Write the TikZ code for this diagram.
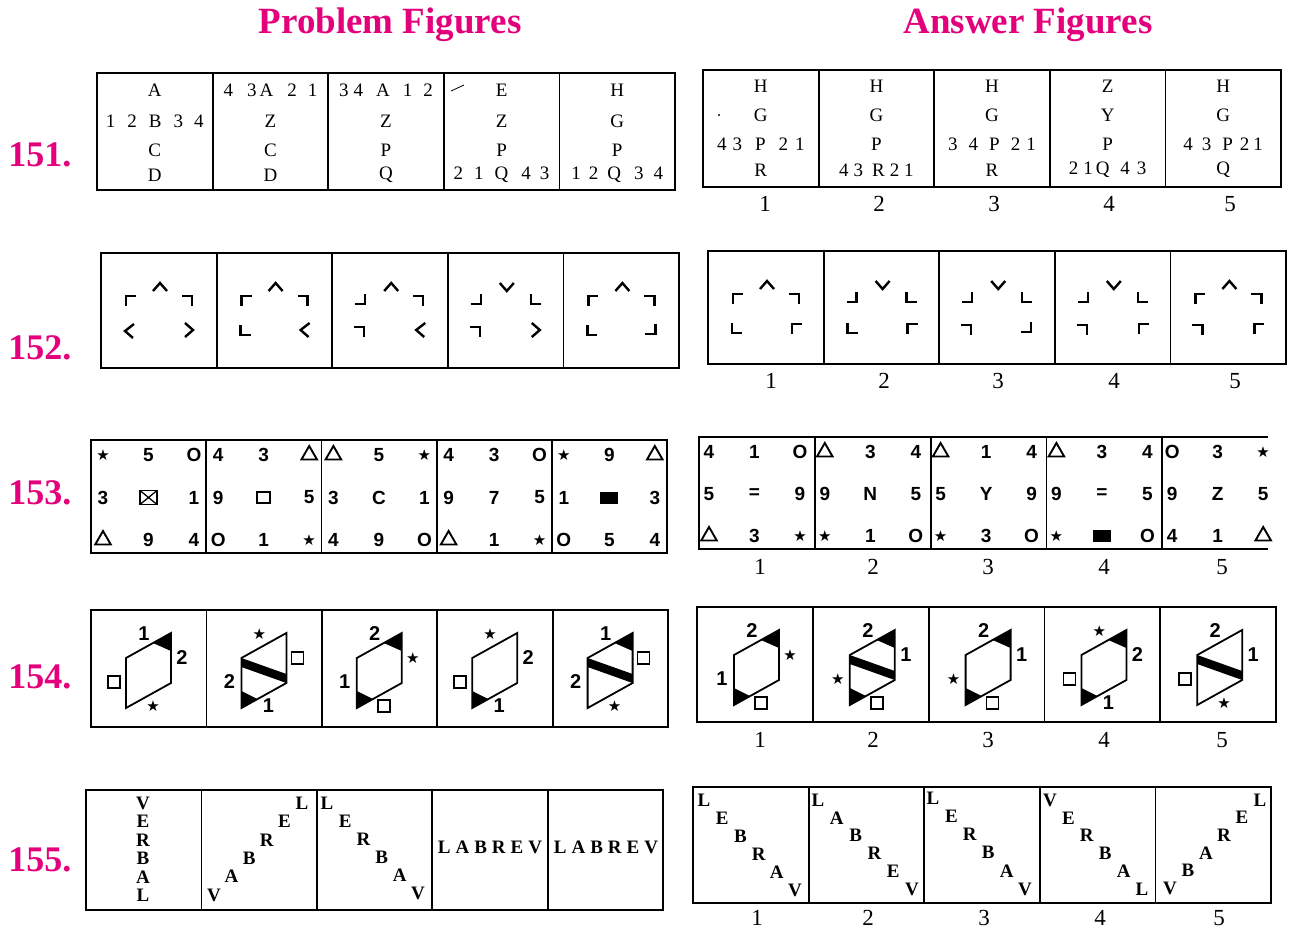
\documentclass[tikz,border=0pt]{standalone}
\usepackage{fontspec}
\setmainfont{Liberation Serif}
\newfontfamily\arialf{Liberation Sans}
\newfontfamily\dejav{DejaVu Sans}
\usetikzlibrary{calc,shapes.geometric}
\definecolor{mag}{RGB}{228,0,124}
\newcommand\hs[1]{\hspace{#1pt}}
% row 152 cell
\newcommand\mcell[8]{%
  \pic (#1ul) at (#2+29,#3+47) {#4};
  \pic (#1c)  at (#2+59,#3+34) {#5};
  \pic (#1ur) at (#2+87,#3+47) {#6};
  \pic (#1ll) at (#2+28,#3+78) {#7};
  \pic (#1lr) at (#2+88,#3+77) {#8};}
% row 154 cell
\newcommand\pcell[8]{%
  \coordinate (#1lt) at (#2+35,#3+48);
  \coordinate (#1lb) at (#2+35,#3+98);
  \coordinate (#1rt) at (#2+80,#3+23);
  \coordinate (#1rb) at (#2+80,#3+73);
  \def\cn{#1}#4
  \draw[pg] (#1lt) -- (#1rt) -- (#1rb) -- (#1lb) -- cycle;
  \node (#1T) at (#2+53,#3+24) [#5];
  \node (#1R) at (#2+91,#3+48) [#6];
  \node (#1L) at (#2+23,#3+72) [#7];
  \node (#1B) at (#2+62,#3+96) [#8];}
\newcommand\BAND{\fill (\cn lt) -- ($(\cn lt)+(0,9)$) -- (\cn rb) -- ($(\cn rb)+(0,-9)$) -- cycle;}
\newcommand\TRB{\fill (\cn rt) -- ($(\cn rt)+(-18,10)$) -- ($(\cn rt)+(0,18)$) -- cycle;}
\newcommand\LBB{\fill (\cn lb) -- ($(\cn lb)+(0,-17)$) -- ($(\cn lb)+(16,-9)$) -- cycle;}
\newcommand\strip[4]{%
  \draw[frame] (#1,#2) rectangle (#3,#4);
  \foreach \j in {1,...,4} \draw[div] ({#1+\j*(#3-#1)/5},#2) -- ({#1+\j*(#3-#1)/5},#4);}
\begin{document}
\begin{tikzpicture}[x=1pt,y=-1pt,
  frame/.style={line width=2.4pt},
  div/.style={line width=1.8pt},
  head/.style={font=\bfseries\fontsize{37}{40}\selectfont, text=mag, inner sep=0pt},
  qnum/.style={font=\bfseries\fontsize{36}{40}\selectfont, text=mag, inner sep=0pt},
  numlab/.style={font=\fontsize{23}{24}\selectfont, inner sep=0pt},
  ltr/.style={font=\fontsize{19}{20}\selectfont, inner sep=0pt},
  vb/.style={font=\bfseries\fontsize{19}{19}\selectfont, inner sep=0pt},
  mk/.style={line width=2.4pt, line join=miter},
  TL/.pic={\draw[mk] (-4,6) -- (-4,-4) -- (6,-4);},
  TR/.pic={\draw[mk] (-6,-4) -- (4,-4) -- (4,6);},
  BL/.pic={\draw[mk] (-4,-6) -- (-4,4) -- (6,4);},
  BR/.pic={\draw[mk] (-6,4) -- (4,4) -- (4,-6);},
  UP/.pic={\draw[mk] (-7,4) -- (0,-4) -- (7,4);},
  DN/.pic={\draw[mk] (-7,-4) -- (0,4) -- (7,-4);},
  LA/.pic={\draw[mk] (5,-7) -- (-4,0) -- (4,7);},
  RA/.pic={\draw[mk] (-4,-7) -- (4,0) -- (-4,7);},
  tx/.style={font=\arialf\bfseries\fontsize{19}{19}\selectfont, inner sep=0pt},
  st/.style={font=\dejav\fontsize{15}{15}\selectfont, inner sep=0pt},
  tr/.style={regular polygon, regular polygon sides=3, draw, line width=1.9pt, minimum size=18pt, inner sep=0pt},
  bx/.style={draw, line width=1.6pt, minimum width=13pt, minimum height=11pt, inner sep=0pt},
  fb/.style={fill, minimum width=18pt, minimum height=12pt, inner sep=0pt},
  xb/.style={draw, line width=1.6pt, minimum width=17pt, minimum height=14pt, inner sep=0pt,
    path picture={\draw[line width=1.3pt] (path picture bounding box.north west) -- (path picture bounding box.south east)
      (path picture bounding box.north east) -- (path picture bounding box.south west);}},
  pg/.style={line width=1.8pt, line join=miter},
  lab1/.style={font=\arialf\bfseries\fontsize{20}{20}\selectfont, inner sep=0pt, node contents=1},
  lab2/.style={font=\arialf\bfseries\fontsize{20}{20}\selectfont, inner sep=0pt, node contents=2},
  labst/.style={font=\dejav\fontsize{15}{15}\selectfont, inner sep=0pt, node contents=★},
  labsq/.style={draw, line width=1.7pt, minimum width=12pt, minimum height=12pt, inner sep=0pt, node contents={}}
]
\fill[white] (0,0) rectangle (1289,932);
\useasboundingbox (0,0) rectangle (1289,932);

% headers
\node[head] (hp) at (390,25) {Problem Figures};
\node[head] (ha) at (1028,25) {Answer Figures};
\foreach \q/\yy in {151/155,152/348,153/493,154/677,155/860}
  \node[qnum] (q\q) at (40,\yy) {\q.};

% ---------- 151 ----------
\strip{97}{73}{675}{190}
\strip{703}{70}{1281}{187}
\foreach \ci/\cx/\Ta/\Tb/\Tc/\Td in {
  1/154.8/A/{1\hs{12}2\hs{12}B\hs{12}3\hs{11}4}/C/D,
  2/270.4/{4\hs{14}3\hs{3}A\hs{14}2\hs{11}1}/Z/C/D,
  3/386/{3\hs{5}4\hs{13}A\hs{13}1\hs{11}2}/Z/P/Q,
  4/501.6/E/Z/P/{2\hs{11}1\hs{11}Q\hs{13}4\hs{9}3},
  5/617.2/H/G/P/{1\hs{8}2\hs{9}Q\hs{13}3\hs{10}4}}{
  \node[ltr] (p151-\ci-a) at (\cx,90) {\Ta};
  \node[ltr] (p151-\ci-b) at (\cx,121) {\Tb};
  \node[ltr] (p151-\ci-c) at (\cx,150) {\Tc};
  \node[ltr] (p151-\ci-d) at (\cx,175) {\Td};
}
\foreach \ci/\cx/\Ta/\Tb/\Tc/\Td in {
  1/760.8/H/G/{4\hs{6}3\hs{13}P\hs{13}2\hs{7}1}/R,
  2/876.4/H/G/P/{4\hs{5}3\hs{9}R\hs{5}2\hs{5}1},
  3/992/H/G/{3\hs{11}4\hs{11}P\hs{11}2\hs{6}1}/R,
  4/1107.6/Z/Y/P/{2\hs{5}1\hs{3}Q\hs{11}4\hs{7}3},
  5/1223.2/H/G/{4\hs{9}3\hs{11}P\hs{7}2\hs{4}1}/Q}{
  \node[ltr] (a151-\ci-a) at (\cx,86) {\Ta};
  \node[ltr] (a151-\ci-b) at (\cx,115) {\Tb};
  \node[ltr] (a151-\ci-c) at (\cx,144) {\Tc};
  \node[ltr] (a151-\ci-d) at (\cx,170) {\Td};
}
\draw[line width=0.8pt] (451,91) -- (464,85);
\fill (719,115) circle (1.2);
\foreach \j/\xx in {1/765,2/879,3/994,4/1109,5/1230}
  \node[numlab] (n151-\j) at (\xx,204) {\j};

% ---------- 152 ----------
\strip{101}{253}{679}{368}
\strip{708}{251}{1286}{364}
\mcell{p152-1}{101}{253}{TL}{UP}{TR}{LA}{RA}
\mcell{p152-2}{216.6}{253}{TL}{UP}{TR}{BL}{LA}
\mcell{p152-3}{332.2}{253}{BR}{UP}{TR}{TR}{LA}
\mcell{p152-4}{447.8}{253}{BR}{DN}{BL}{TR}{RA}
\mcell{p152-5}{563.4}{253}{TL}{UP}{TR}{BL}{BR}
\mcell{a152-1}{708}{251}{TL}{UP}{TR}{BL}{TL}
\mcell{a152-2}{823.6}{251}{BR}{DN}{BL}{BL}{TL}
\mcell{a152-3}{939.2}{251}{BR}{DN}{BL}{TR}{BR}
\mcell{a152-4}{1054.8}{251}{BR}{DN}{BL}{TR}{TL}
\mcell{a152-5}{1170.4}{251}{TL}{UP}{TR}{TR}{TL}
\foreach \j/\xx in {1/771,2/884,3/998,4/1114,5/1235}
  \node[numlab] (n152-\j) at (\xx,381) {\j};

% ---------- 153 ----------
\strip{91}{440}{667}{553}
\draw[frame] (1268,437) -- (699,437) -- (699,549) -- (1268,549);
\foreach \j in {1,...,4} \draw[div] ({699+\j*115.8},437) -- ({699+\j*115.8},549);
\foreach \ci/\xo/\items in {
  1/91/{st/★,tx/5,tx/O,tx/3,xb/{},tx/1,tr/{},tx/9,tx/4},
  2/206.2/{tx/4,tx/3,tr/{},tx/9,bx/{},tx/5,tx/O,tx/1,st/★},
  3/321.4/{tr/{},tx/5,st/★,tx/3,tx/C,tx/1,tx/4,tx/9,tx/O},
  4/436.6/{tx/4,tx/3,tx/O,tx/9,tx/7,tx/5,tr/{},tx/1,st/★},
  5/551.8/{st/★,tx/9,tr/{},tx/1,fb/{},tx/3,tx/O,tx/5,tx/4}}{
  \foreach \st/\tx [count=\k from 0] in \items {
    \pgfmathtruncatemacro\cl{mod(\k,3)}
    \pgfmathtruncatemacro\rw{div(\k,3)}
    \node[\st] (p153-\ci-\k) at (\xo+12+45.5*\cl, 455+42.5*\rw) {\tx};
  }
}
\foreach \ci/\xo/\items in {
  1/699/{tx/4,tx/1,tx/O,tx/5,tx/=,tx/9,tr/{},tx/3,st/★},
  2/814.8/{tr/{},tx/3,tx/4,tx/9,tx/N,tx/5,st/★,tx/1,tx/O},
  3/930.6/{tr/{},tx/1,tx/4,tx/5,tx/Y,tx/9,st/★,tx/3,tx/O},
  4/1046.4/{tr/{},tx/3,tx/4,tx/9,tx/=,tx/5,st/★,fb/{},tx/O},
  5/1162.2/{tx/O,tx/3,st/★,tx/9,tx/Z,tx/5,tx/4,tx/1,tr/{}}}{
  \foreach \st/\tx [count=\k from 0] in \items {
    \pgfmathtruncatemacro\cl{mod(\k,3)}
    \pgfmathtruncatemacro\rw{div(\k,3)}
    \node[\st] (a153-\ci-\k) at (\xo+10+45.5*\cl, 452+42*\rw) {\tx};
  }
}
\foreach \j/\xx in {1/760,2/873,3/988,4/1104,5/1222}
  \node[numlab] (n153-\j) at (\xx,567) {\j};

% ---------- 154 ----------
\strip{91}{610}{668}{727}
\strip{697}{607}{1276}{722}
\pcell{p154-1}{91}{610}{\TRB}{lab1}{lab2}{labsq}{labst}
\pcell{p154-2}{206.4}{610}{\BAND\LBB}{labst}{labsq}{lab2}{lab1}
\pcell{p154-3}{321.8}{610}{\TRB\LBB}{lab2}{labst}{lab1}{labsq}
\pcell{p154-4}{437.2}{610}{\LBB}{labst}{lab2}{labsq}{lab1}
\pcell{p154-5}{552.6}{610}{\BAND\TRB}{lab1}{labsq}{lab2}{labst}
\pcell{a154-1}{699}{607}{\TRB\LBB}{lab2}{labst}{lab1}{labsq}
\pcell{a154-2}{814.8}{607}{\BAND\TRB\LBB}{lab2}{lab1}{labst}{labsq}
\pcell{a154-3}{930.6}{607}{\TRB\LBB}{lab2}{lab1}{labst}{labsq}
\pcell{a154-4}{1046.4}{607}{\TRB\LBB}{labst}{lab2}{labsq}{lab1}
\pcell{a154-5}{1162.2}{607}{\BAND}{lab2}{lab1}{labsq}{labst}
\foreach \j/\xx in {1/760,2/873,3/988,4/1104,5/1222}
  \node[numlab] (n154-\j) at (\xx,740) {\j};

% ---------- 155 ----------
\strip{86}{790}{663}{910}
\strip{693}{787}{1271}{903}
\foreach \nm/\xs/\ys/\dx/\dy/\word in {
  p155-1/143/803/0/18.5/{V,E,R,B,A,L},
  p155-2/214/895/17.6/-18.4/{V,A,B,R,E,L},
  p155-3/327/803/18.2/18/{L,E,R,B,A,V},
  a155-1/704/800/18.2/18/{L,E,B,R,A,V},
  a155-2/818/800/18.8/17.8/{L,A,B,R,E,V},
  a155-3/933/798/18.4/18.2/{L,E,R,B,A,V},
  a155-4/1050/800/18.4/17.8/{V,E,R,B,A,L},
  a155-5/1170/888/18/-17.6/{V,B,A,R,E,L}}{
  \foreach \L [count=\k from 0] in \word
    \node[vb] (\nm-\k) at (\xs+\dx*\k, \ys+\dy*\k) {\L};
}
\node[vb] (p155-4) at (490,847) {L\hs{5}A\hs{5}B\hs{5}R\hs{5}E\hs{5}V};
\node[vb] (p155-5) at (606,847) {L\hs{5}A\hs{5}B\hs{5}R\hs{5}E\hs{5}V};
\foreach \j/\xx in {1/757,2/868,3/984,4/1100,5/1219}
  \node[numlab] (n155-\j) at (\xx,918) {\j};
\end{tikzpicture}
\end{document}
